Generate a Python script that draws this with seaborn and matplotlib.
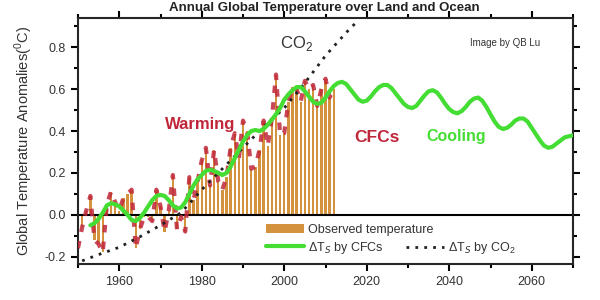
import numpy as np
import matplotlib
matplotlib.use("Agg")
import matplotlib.pyplot as plt
import seaborn as sns
from matplotlib.patches import Patch
from matplotlib.lines import Line2D
from matplotlib.ticker import MultipleLocator

# observed annual anomalies (bars), 1950-2012
obs_years = list(range(1950, 2013))
obs_values = [-0.16, -0.06, 0.02, 0.09, -0.12, -0.14, -0.18, 0.05, 0.11, 0.06,
              0.02, 0.08, 0.10, 0.12, -0.16, -0.07, -0.01, -0.01, -0.03, 0.12,
              0.04, -0.08, 0.02, 0.19, -0.07, -0.01, -0.08, 0.18, 0.07, 0.16,
              0.26, 0.32, 0.14, 0.31, 0.16, 0.12, 0.18, 0.32, 0.39, 0.27,
              0.45, 0.40, 0.22, 0.23, 0.31, 0.45, 0.33, 0.46, 0.67, 0.38,
              0.39, 0.54, 0.61, 0.60, 0.54, 0.64, 0.60, 0.62, 0.52, 0.60,
              0.65, 0.56, 0.60]

# dT_S by CFCs (green curve)
cfc_years = list(range(1953, 2071))
cfc_values = [-0.05, -0.04, -0.02, 0.01, 0.045, 0.055, 0.05, 0.04, 0.02, 0.00,
              -0.025, -0.03, -0.015, 0.01, 0.04, 0.07, 0.09, 0.095, 0.09, 0.07,
              0.045, 0.03, 0.035, 0.06, 0.10, 0.14, 0.17, 0.19, 0.21, 0.215,
              0.21, 0.20, 0.19, 0.20, 0.23, 0.27, 0.31, 0.35, 0.38, 0.40,
              0.405, 0.40, 0.41, 0.43, 0.455, 0.48, 0.51, 0.55, 0.575, 0.595,
              0.61, 0.61, 0.59, 0.565, 0.54, 0.53, 0.535, 0.56, 0.59, 0.615,
              0.63, 0.635, 0.625, 0.60, 0.575, 0.55, 0.54, 0.545, 0.565, 0.59,
              0.61, 0.62, 0.62, 0.605, 0.58, 0.555, 0.53, 0.515, 0.51, 0.52,
              0.545, 0.57, 0.59, 0.595, 0.585, 0.56, 0.53, 0.505, 0.49, 0.485,
              0.495, 0.515, 0.54, 0.555, 0.56, 0.545, 0.515, 0.48, 0.445, 0.42,
              0.41, 0.415, 0.43, 0.45, 0.46, 0.46, 0.445, 0.415, 0.385, 0.355,
              0.33, 0.32, 0.325, 0.34, 0.355, 0.37, 0.375, 0.38]

# dT_S by CO2 (dotted curve)
co2_years = [1951, 1955, 1960, 1965, 1970, 1975, 1980, 1985, 1990, 1995,
             2000, 2005, 2010, 2015, 2018]
co2_values = [-0.22, -0.19, -0.155, -0.105, -0.05, 0.01, 0.12, 0.22, 0.32, 0.42,
              0.51, 0.63, 0.76, 0.87, 0.93]

sns.set_style("ticks")
plt.rcParams["font.family"] = ["Liberation Sans", "DejaVu Sans"]
plt.rcParams["mathtext.fontset"] = "custom"
plt.rcParams["mathtext.rm"] = "Liberation Sans"

bar_color = "#d4923e"
green = "#44dd33"
dark_red = "#c0263a"
grey = "#333333"
co2_style = (0, (1, 2.2))

fig = plt.figure(figsize=(6, 3), dpi=100)
ax = fig.add_axes([0.13, 0.12, 0.825, 0.82])

sns.barplot(x=obs_years, y=obs_values, native_scale=True, width=0.6,
            color=bar_color, saturation=1, edgecolor="none", ax=ax, zorder=2)
ax.plot(obs_years, obs_values, color=dark_red, lw=3, dashes=(1.8, 2.2),
        alpha=0.85, zorder=3)
ax.axhline(0, color="black", lw=1.5, zorder=2.5)
sns.lineplot(x=co2_years, y=co2_values, color="#222222", lw=2,
             linestyle=co2_style, ax=ax, zorder=4)
sns.lineplot(x=cfc_years, y=cfc_values, color=green, lw=3, ax=ax, zorder=5)

ax.set_xlim(1950, 2070)
ax.set_ylim(-0.235, 0.94)
ax.xaxis.set_major_locator(MultipleLocator(20))
ax.xaxis.set_minor_locator(MultipleLocator(10))
ax.yaxis.set_major_locator(MultipleLocator(0.2))
ax.yaxis.set_minor_locator(MultipleLocator(0.1))
ax.yaxis.set_major_formatter(plt.FuncFormatter(lambda v, p: f"{v:.1f}"))
ax.tick_params(which="both", direction="out", top=True, right=True,
               width=1.5, colors="black", labelcolor=grey, labelsize=9)
ax.tick_params(which="major", length=5)
ax.tick_params(which="minor", length=3)
for s in ax.spines.values():
    s.set_linewidth(1.5)

ax.set_xlabel("")
ax.set_ylabel("Global Temperature Anomalies($^0$C)", fontsize=10.5, color=grey,
              labelpad=7)

fig.text(0.54, 0.972, "Annual Global Temperature over Land and Ocean",
         ha="center", va="center", fontsize=9.5, fontweight="bold", color="#222222")

ax.text(2003, 0.82, "CO$_2$", ha="center", va="center", fontsize=12, color=grey)
ax.text(2053.5, 0.82, "Image by QB Lu", ha="center", va="center", fontsize=7,
        color=grey)
ax.text(1979.5, 0.43, "Warming", ha="center", va="center", fontsize=12,
        fontweight="bold", color=dark_red)
ax.text(2022.4, 0.37, "CFCs", ha="center", va="center", fontsize=12.5,
        fontweight="bold", color=dark_red)
ax.text(2041.7, 0.375, "Cooling", ha="center", va="center", fontsize=11.5,
        fontweight="bold", color=green)

leg1 = ax.legend([Patch(facecolor=bar_color, edgecolor="none"),
                  Line2D([], [], color=green, lw=3)],
                 ["Observed temperature", r"$\Delta$T$_S$ by CFCs"],
                 loc="upper left", frameon=False,
                 bbox_to_anchor=((266 - 78) / 495, (264 - 224) / 246),
                 borderaxespad=0, borderpad=0, fontsize=9, labelcolor=grey,
                 handlelength=3, handletextpad=0.4, labelspacing=0.3)
ax.add_artist(leg1)
ax.legend([Line2D([], [], color="#222222", lw=2, linestyle=co2_style)],
          [r"$\Delta$T$_S$ by CO$_2$"],
          loc="upper left", frameon=False,
          bbox_to_anchor=((406 - 78) / 495, (264 - 240) / 246),
          borderaxespad=0, borderpad=0, fontsize=9, labelcolor=grey,
          handlelength=3, handletextpad=0.4)

fig.savefig("out.png", dpi=100)
